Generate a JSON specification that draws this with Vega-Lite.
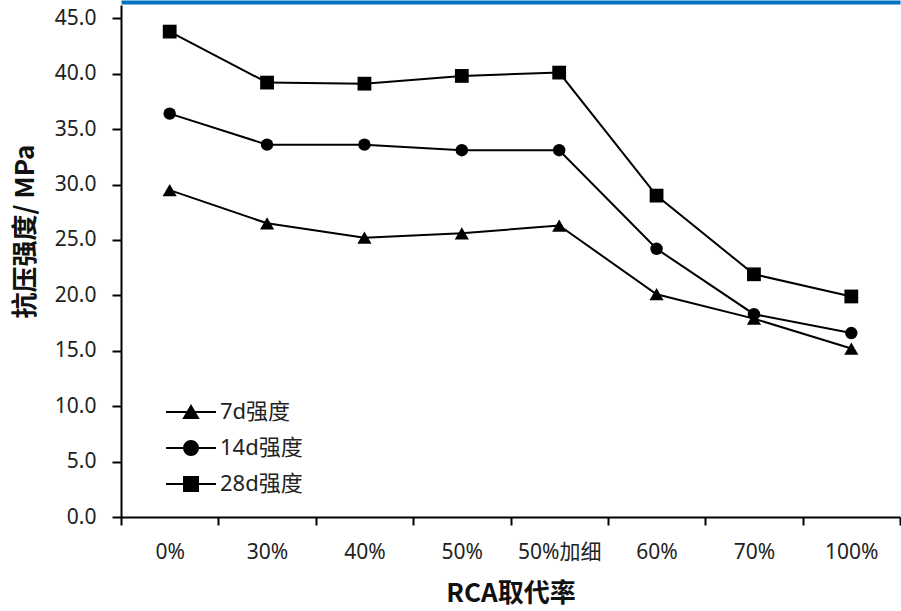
{
  "$schema": "https://vega.github.io/schema/vega-lite/v6.json",
  "autosize": {"type": "none"},
  "width": 779,
  "height": 512,
  "padding": {"left": 121, "top": 5, "right": 1, "bottom": 94},
  "background": "white",
  "config": {
    "view": {"stroke": null},
    "axis": {"grid": false}
  },
  "data": {
    "values": [
      {"rate": "0%", "series": "7d强度", "strength": 29.5},
      {"rate": "30%", "series": "7d强度", "strength": 26.5},
      {"rate": "40%", "series": "7d强度", "strength": 25.2},
      {"rate": "50%", "series": "7d强度", "strength": 25.6},
      {"rate": "50%加细", "series": "7d强度", "strength": 26.3},
      {"rate": "60%", "series": "7d强度", "strength": 20.1},
      {"rate": "70%", "series": "7d强度", "strength": 17.9},
      {"rate": "100%", "series": "7d强度", "strength": 15.2},
      {"rate": "0%", "series": "14d强度", "strength": 36.4},
      {"rate": "30%", "series": "14d强度", "strength": 33.6},
      {"rate": "40%", "series": "14d强度", "strength": 33.6},
      {"rate": "50%", "series": "14d强度", "strength": 33.1},
      {"rate": "50%加细", "series": "14d强度", "strength": 33.1},
      {"rate": "60%", "series": "14d强度", "strength": 24.2},
      {"rate": "70%", "series": "14d强度", "strength": 18.3},
      {"rate": "100%", "series": "14d强度", "strength": 16.6},
      {"rate": "0%", "series": "28d强度", "strength": 43.8},
      {"rate": "30%", "series": "28d强度", "strength": 39.2},
      {"rate": "40%", "series": "28d强度", "strength": 39.1},
      {"rate": "50%", "series": "28d强度", "strength": 39.8},
      {"rate": "50%加细", "series": "28d强度", "strength": 40.1},
      {"rate": "60%", "series": "28d强度", "strength": 29.0},
      {"rate": "70%", "series": "28d强度", "strength": 21.9},
      {"rate": "100%", "series": "28d强度", "strength": 19.9}
    ]
  },
  "encoding": {
    "y": {
      "field": "strength",
      "type": "quantitative",
      "scale": {"domain": [0, 46.2], "nice": false, "zero": true},
      "axis": {
        "values": [0, 5, 10, 15, 20, 25, 30, 35, 40, 45],
        "format": ".1f",
        "domainColor": "black",
        "domainWidth": 2,
        "tickColor": "black",
        "tickWidth": 2,
        "tickSize": 9,
        "labelFont": "Noto Sans",
        "labelFontSize": 21,
        "labelColor": "#222222",
        "labelPadding": 16,
        "title": "抗压强度/ MPa",
        "titleFont": "Noto Sans CJK SC",
        "titleFontSize": 26,
        "titleFontWeight": "bold",
        "titleColor": "#111111",
        "titlePadding": 16,
        "titleY": 226
      }
    }
  },
  "layer": [
    {
      "mark": {"type": "line", "strokeWidth": 2},
      "encoding": {
        "x": {
          "field": "rate",
          "type": "nominal",
          "sort": ["0%", "30%", "40%", "50%", "50%加细", "60%", "70%", "100%"],
          "scale": {"type": "band", "paddingInner": 0, "paddingOuter": 0},
          "axis": {
            "orient": "bottom",
            "tickBand": "extent",
            "domainColor": "black",
            "domainWidth": 2,
            "tickColor": "black",
            "tickWidth": 2,
            "tickSize": 8,
            "labelAngle": 0,
            "labelFont": "Noto Sans, Noto Sans CJK SC",
            "labelFontSize": 21,
            "labelColor": "#222222",
            "labelPadding": 16,
            "title": "RCA取代率",
            "titleFont": "Noto Sans CJK SC",
            "titleFontSize": 26,
            "titleFontWeight": "bold",
            "titleColor": "#111111",
            "titlePadding": 18
          }
        },
        "color": {
          "field": "series",
          "type": "nominal",
          "scale": {
            "domain": ["7d强度", "14d强度", "28d强度"],
            "range": ["black", "black", "black"]
          },
          "legend": {
            "title": null,
            "orient": "none",
            "legendX": 59,
            "legendY": 396,
            "symbolSize": 196,
            "labelFont": "Noto Sans, Noto Sans CJK SC",
            "labelFontSize": 22,
            "labelColor": "#222222",
            "labelOffset": 18,
            "rowPadding": 14,
            "encode": {
              "symbols": {
                "update": {
                  "shape": {"signal": "datum.value === '7d强度' ? 'M-3.57,0H3.57M0,-0.87L1,0.87L-1,0.87Z' : datum.value === '14d强度' ? 'M-3.57,0H3.57M-1,0A1,1 0 1,0 1,0A1,1 0 1,0 -1,0Z' : 'M-3.57,0H3.57M-1,-1H1V1H-1Z'"},
                  "size": {"value": 196},
                  "fill": {"value": "black"},
                  "stroke": {"value": "black"},
                  "strokeWidth": {"value": 2},
                  "opacity": {"value": 1}
                }
              }
            }
          }
        }
      }
    },
    {
      "transform": [{"filter": "datum.series === '7d强度'"}],
      "mark": {"type": "point", "shape": "triangle-up", "filled": true, "opacity": 1, "color": "black", "size": 200},
      "encoding": {
        "x": {"field": "rate", "type": "nominal", "sort": ["0%", "30%", "40%", "50%", "50%加细", "60%", "70%", "100%"], "axis": null}
      }
    },
    {
      "transform": [{"filter": "datum.series === '14d强度'"}],
      "mark": {"type": "point", "shape": "circle", "filled": true, "opacity": 1, "color": "black", "size": 155},
      "encoding": {
        "x": {"field": "rate", "type": "nominal", "sort": ["0%", "30%", "40%", "50%", "50%加细", "60%", "70%", "100%"], "axis": null}
      }
    },
    {
      "transform": [{"filter": "datum.series === '28d强度'"}],
      "mark": {"type": "point", "shape": "square", "filled": true, "opacity": 1, "color": "black", "size": 190},
      "encoding": {
        "x": {"field": "rate", "type": "nominal", "sort": ["0%", "30%", "40%", "50%", "50%加细", "60%", "70%", "100%"], "axis": null}
      }
    },
    {
      "mark": {"type": "line", "opacity": 0},
      "encoding": {
        "x": {
          "field": "rate",
          "type": "nominal",
          "sort": ["0%", "30%", "40%", "50%", "50%加细", "60%", "70%", "100%"],
          "axis": {
            "orient": "top",
            "labels": false,
            "ticks": false,
            "title": null,
            "domainColor": "#0070C0",
            "domainWidth": 4,
            "offset": 3
          }
        },
        "detail": {"field": "series"}
      }
    }
  ],
  "resolve": {"axis": {"x": "independent"}}
}
